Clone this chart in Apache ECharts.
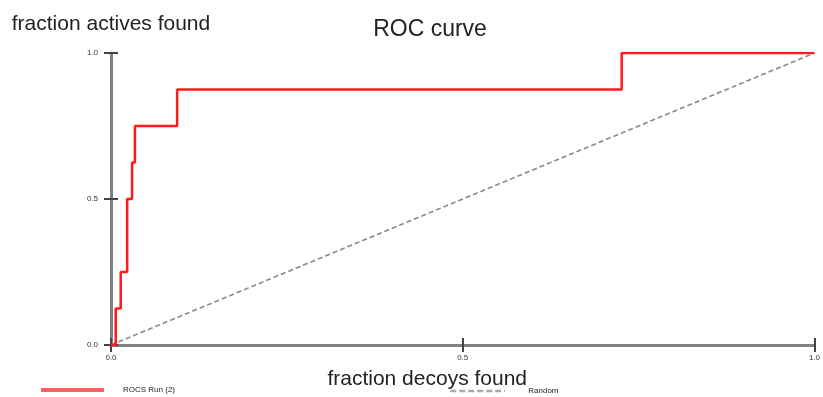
<!DOCTYPE html>
<html>
<head>
<meta charset="utf-8">
<script src="https://cdn.jsdelivr.net/npm/echarts@6/dist/echarts.min.js"></script>
<style>html,body{margin:0;padding:0;background:#fff}#c{width:823px;height:397px}</style>
</head>
<body>
<div id="c"></div>
<script>
// ROC curve vertices (fraction decoys found, fraction actives found)
var rocX = [0, 0.0067, 0.0138, 0.023, 0.030, 0.034, 0.094, 0.726, 1.0];
var rocY = [0, 0.125, 0.25, 0.5, 0.625, 0.75, 0.875, 1.0, 1.0];
var randomX = [0, 1];
var randomY = [0, 1];
var tickValues = [0, 0.5, 1.0];
var seriesNames = ['ROCS Run (2)', 'Random'];

function pairs(xs, ys) { return xs.map(function (x, i) { return [x, ys[i]]; }); }

var chart = echarts.init(document.getElementById('c'), null, { renderer: 'canvas' });
var fam = '"Liberation Sans", Arial, sans-serif';
var tickLabel = { fontSize: 8, color: '#333', fontFamily: fam, formatter: function (v) { return v.toFixed(1); } };

var baseX = { type: 'value', min: 0, max: 1, interval: 0.5, splitLine: { show: false } };
var baseY = { type: 'value', min: 0, max: 1, interval: 0.5, splitLine: { show: false } };

chart.setOption({
  animation: false,
  backgroundColor: '#fff',
  title: {
    text: 'ROC curve', left: 425, top: 13, textAlign: 'center',
    textStyle: { fontSize: 23, fontWeight: 'normal', color: '#222', fontFamily: fam }
  },
  grid: { left: 111, right: 7, top: 53, bottom: 52, containLabel: false },
  legend: [
    { data: [seriesNames[0]], left: 34, top: 381, itemWidth: 63, itemHeight: 10,
      itemStyle: { opacity: 0 },
      lineStyle: { width: 4, color: '#ff6060' },
      textStyle: { fontSize: 8, color: '#222', fontFamily: fam, padding: [0, 0, 0, 14] } },
    { data: [seriesNames[1]], left: 444, top: 382, itemWidth: 55, itemHeight: 10,
      itemStyle: { opacity: 0 },
      lineStyle: { width: 2.5, color: '#aaa', type: [6, 3] },
      textStyle: { fontSize: 8, color: '#222', fontFamily: fam, padding: [3, 0, 0, 18] } }
  ],
  xAxis: [
    Object.assign({}, baseX, {
      name: 'fraction decoys found', nameLocation: 'middle', nameGap: 24,
      nameTextStyle: { fontSize: 21, color: '#222', fontFamily: fam, padding: [0, 71, 0, 0] },
      axisLine: { show: true, lineStyle: { color: '#808080', width: 3 } },
      axisTick: { show: true, length: 7, lineStyle: { color: '#444', width: 2 } },
      axisLabel: Object.assign({ margin: 9 }, tickLabel)
    }),
    Object.assign({}, baseX, {
      position: 'bottom',
      axisLine: { show: false },
      axisTick: { show: true, inside: true, length: 7, lineStyle: { color: '#444', width: 2 } },
      axisLabel: { show: false }
    })
  ],
  yAxis: [
    Object.assign({}, baseY, {
      name: 'fraction actives found', nameLocation: 'end', nameGap: 18,
      nameTextStyle: { fontSize: 21, color: '#222', fontFamily: fam },
      axisLine: { show: true, lineStyle: { color: '#808080', width: 3 } },
      axisTick: { show: true, length: 7, lineStyle: { color: '#444', width: 2 } },
      axisLabel: Object.assign({ margin: 13 }, tickLabel)
    }),
    Object.assign({}, baseY, {
      position: 'left',
      axisLine: { show: false },
      axisTick: { show: true, inside: true, length: 7, lineStyle: { color: '#444', width: 2 } },
      axisLabel: { show: false }
    })
  ],
  series: [
    {
      name: seriesNames[1], type: 'line', data: pairs(randomX, randomY),
      symbol: 'none', z: 2,
      lineStyle: { color: '#888', width: 1.6, type: [5, 3] },
      itemStyle: { color: '#888' }
    },
    {
      name: seriesNames[0], type: 'line', data: pairs(rocX, rocY), step: 'end',
      symbol: 'none', z: 3,
      lineStyle: { color: '#ff1a1a', width: 2.5 },
      itemStyle: { color: '#ff4d4d' }
    }
  ]
});
</script>
</body>
</html>
